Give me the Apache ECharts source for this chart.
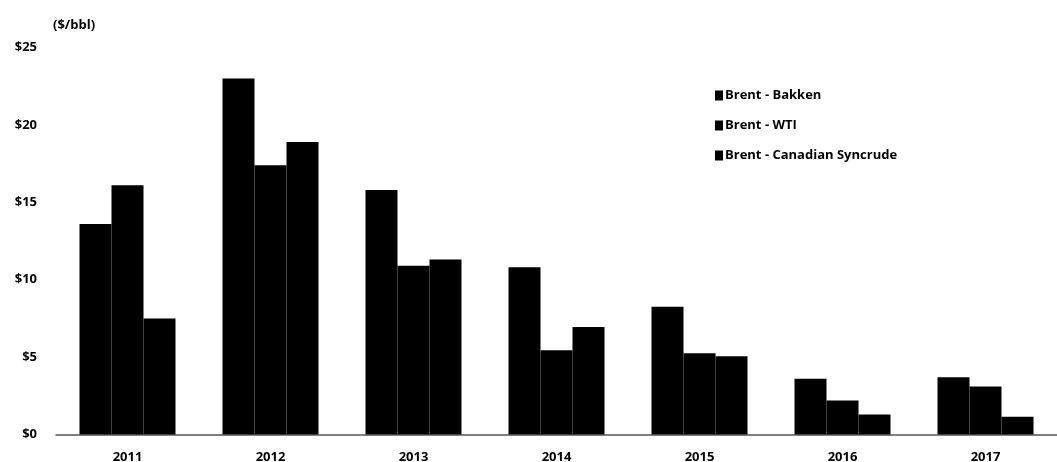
<!DOCTYPE html>
<html>
<head>
<meta charset="utf-8">
<script src="https://cdn.jsdelivr.net/npm/echarts@6/dist/echarts.min.js"></script>
<style>
  html, body { margin: 0; padding: 0; background: #fff; }
  #chart { width: 1057px; height: 462px; }
</style>
</head>
<body>
<div id="chart"></div>
<script>
// years on the x axis
const years = ["2011", "2012", "2013", "2014", "2015", "2016", "2017"];
// spreads in $/bbl
const brentBakken = [13.6, 23.0, 15.8, 10.8, 8.25, 3.6, 3.7];
const brentWti = [16.1, 17.4, 10.9, 5.45, 5.25, 2.2, 3.1];
const brentSyncrude = [7.5, 18.9, 11.3, 6.95, 5.05, 1.3, 1.15];

const FONT = "Open Sans";

const myChart = echarts.init(document.getElementById("chart"));

const barSeries = (name, data) => ({
  name: name,
  type: "bar",
  data: data,
  barWidth: 32,
  barGap: "0%",
  itemStyle: { color: "#000" }
});

const option = {
  animation: false,
  textStyle: { fontFamily: FONT },
  title: {
    text: "($/bbl)",
    left: 48,
    top: 14,
    textStyle: { fontFamily: FONT, fontSize: 13, fontWeight: "bold", color: "#000" }
  },
  legend: {
    orient: "vertical",
    left: 710,
    top: 84,
    itemGap: 17,
    itemWidth: 8,
    itemHeight: 10,
    icon: "rect",
    textStyle: { fontFamily: FONT, fontSize: 13, fontWeight: "bold", color: "#000", padding: [0, 0, 0, -3] }
  },
  grid: { left: 56, right: 0, top: 47.5, bottom: 27.5, outerBoundsMode: "none" },
  xAxis: {
    type: "category",
    data: years,
    axisLine: { lineStyle: { color: "#555", width: 1.5 } },
    axisTick: { inside: true, length: 4, lineStyle: { color: "#333" } },
    axisLabel: { margin: 16, fontFamily: FONT, fontSize: 13, fontWeight: "bold", color: "#000" }
  },
  yAxis: {
    type: "value",
    min: 0,
    max: 25,
    interval: 5,
    splitLine: { show: false },
    axisLine: { show: false },
    axisTick: { show: false },
    axisLabel: {
      margin: 19,
      fontFamily: FONT,
      fontSize: 13,
      fontWeight: "bold",
      color: "#000",
      formatter: "${value}"
    }
  },
  series: [
    barSeries("Brent - Bakken", brentBakken),
    barSeries("Brent - WTI", brentWti),
    barSeries("Brent - Canadian Syncrude", brentSyncrude)
  ]
};

myChart.setOption(option);
</script>
</body>
</html>
